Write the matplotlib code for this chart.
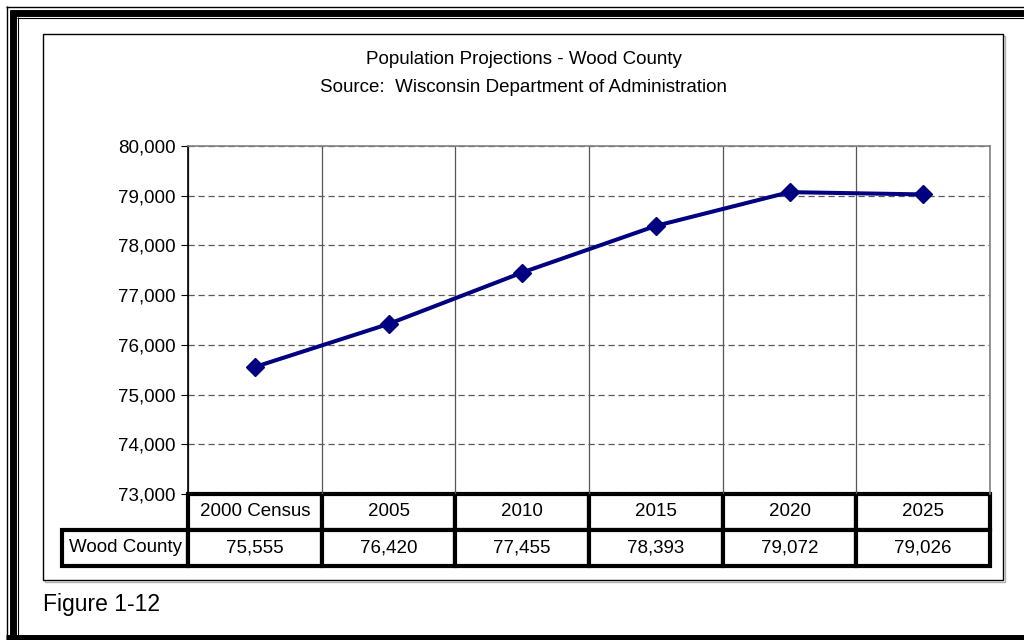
import matplotlib
matplotlib.use("Agg")
import matplotlib.pyplot as plt
from matplotlib.lines import Line2D
from matplotlib.patches import Rectangle
from matplotlib.table import Table
from matplotlib.ticker import FuncFormatter, MultipleLocator

plt.rcParams['font.family'] = ['Liberation Sans', 'DejaVu Sans']

# population projections, Wood County
years = ['2000 Census', '2005', '2010', '2015', '2020', '2025']
population = [75555, 76420, 77455, 78393, 79072, 79026]
series_name = 'Wood County'
title_lines = ['Population Projections - Wood County',
               'Source:  Wisconsin Department of Administration']
caption = 'Figure 1-12'

W, H = 1024, 640
fig = plt.figure(figsize=(W / 100, H / 100), dpi=100)


def px(x0, y0, x1, y1):
    """Pixel box (top-left origin) -> figure fraction rect."""
    return [x0 / W, 1 - y1 / H, (x1 - x0) / W, (y1 - y0) / H]


def hline(y, x0, x1, lw, color='black'):
    fig.add_artist(Line2D([x0 / W, x1 / W], [1 - y / H, 1 - y / H],
                          lw=lw, color=color, solid_capstyle='butt',
                          transform=fig.transFigure))


def vline(x, y0, y1, lw, color='black'):
    fig.add_artist(Line2D([x / W, x / W], [1 - y0 / H, 1 - y1 / H],
                          lw=lw, color=color, solid_capstyle='butt',
                          transform=fig.transFigure))


# outer double frame (runs off the right and bottom edges)
hline(6.5, 6, W, 1.0)
hline(13, 9.5, W, 5.0)
hline(17.5, 17, W, 0.8)
vline(6.5, 6, H, 1.0)
vline(13, 9.5, H, 5.0)
vline(17.5, 17, H, 0.8)
hline(638, 6, W, 5.0)

# chart area box with a light shadow
fig.add_artist(Rectangle((45 / W, 1 - 582 / H), 960 / W, 546 / H,
                         transform=fig.transFigure, facecolor='none',
                         edgecolor='#b0b0b0', lw=1.0))
fig.add_artist(Rectangle((43 / W, 1 - 580 / H), 960 / W, 546 / H,
                         transform=fig.transFigure, facecolor='white',
                         edgecolor='black', lw=1.0))

for i, line in enumerate(title_lines):
    fig.text(524 / W, 1 - (60 + 27 * i) / H, line, ha='center', va='center',
             fontsize=13.5)

fig.text(43 / W, 1 - 604 / H, caption, ha='left', va='center', fontsize=16.5)

ax = fig.add_axes(px(188, 146, 990, 494))
ax.set_zorder(2)
x = [i + 0.5 for i in range(len(years))]
ax.plot(x, population, color='#000080', lw=2.9, marker='D', markersize=9.6,
        zorder=4, clip_on=False)

ax.set_xlim(0, len(years))
ax.set_ylim(73000, 80000)
ax.yaxis.set_major_locator(MultipleLocator(1000))
ax.yaxis.set_major_formatter(FuncFormatter(lambda v, p: f'{v:,.0f}'))
ax.set_xticks(range(len(years) + 1))
ax.tick_params(axis='x', length=0, labelbottom=False)
ax.tick_params(axis='y', direction='out', length=5, width=0.8, pad=4,
               labelsize=13.5)
ax.grid(axis='y', color='#5a5a5a', lw=0.9, ls=(0, (5, 3)))
ax.grid(axis='x', color='#555555', lw=0.9, ls='-')
ax.set_axisbelow(True)
for side in ('top', 'right'):
    ax.spines[side].set_color('#808080')
    ax.spines[side].set_linewidth(1.2)
ax.spines['left'].set_linewidth(1.2)
ax.spines['bottom'].set_visible(False)

# data table under the plot; the bbox covers the value columns only,
# the row label column hangs off to the left
col_w = 1 / len(years)
row_h = 36 / 348
label_w = 126 / 802
table = Table(ax, bbox=[0, -2 * row_h, 1, 2 * row_h])
for j, yr in enumerate(years):
    table.add_cell(0, j, col_w, row_h, text=yr, loc='center')
    table.add_cell(1, j, col_w, row_h, text=f'{population[j]:,}', loc='center')
table.add_cell(1, -1, label_w, row_h, text=series_name, loc='center')
table.auto_set_font_size(False)
table.set_fontsize(13.5)
for cell in table.get_celld().values():
    cell.set_linewidth(3.0)
    cell.set_edgecolor('black')
    cell.set_facecolor('white')
table.set_clip_on(False)
ax.add_table(table)

fig.savefig('out.png', dpi=100)
